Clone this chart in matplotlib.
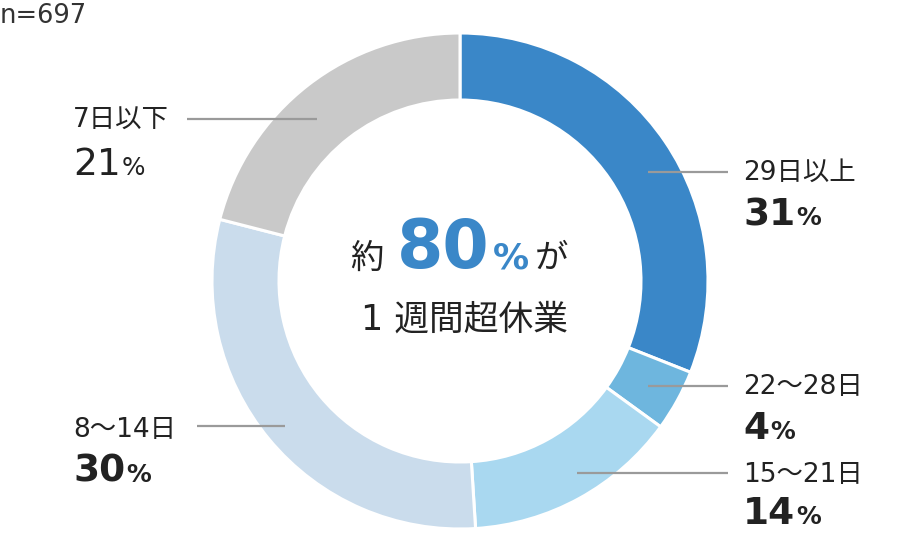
import matplotlib
matplotlib.use('Agg')
import matplotlib.pyplot as plt

# 欧文は DejaVu (Meiryo に近い幅)、和文は Noto
plt.rcParams['font.family'] = ['DejaVu Sans', 'Noto Sans CJK JP']

# データ
categories = ['29日以上', '22～28日', '15～21日', '8～14日', '7日以下']
values     = [31, 4, 14, 30, 21]
colors     = ['#3a87c8', '#6eb6de', '#a9d8f0', '#cadcec', '#c9c9c9']
n_total    = 697

# ラベル配置 (px, 左上原点): (テキストx, ラベル中心y, %ベースラインy, 線x0, 線x1, 線y, 太字)
label_pos = [
    (743, 173, 225, 648, 728, 172, True),
    (743, 387, 439, 648, 728, 386, True),
    (743, 475, 524, 577, 728, 473, True),
    (73, 430, 482, 197, 285, 426, True),
    (73, 121, 175, 187, 317, 119, False),
]

W, H = 920, 550
fig = plt.figure(figsize=(W / 100, H / 100), dpi=100)
ax = fig.add_axes([0, 0, 1, 1])
ax.axis('off')

CX, CY = 460, H - 281
R_OUT, R_IN = 248, 181

ax.pie(values, colors=colors, startangle=90, counterclock=False,
       radius=R_OUT, center=(CX, CY),
       wedgeprops=dict(width=R_OUT - R_IN, edgecolor='white', linewidth=2.2))
ax.set_xlim(0, W)
ax.set_ylim(0, H)
ax.set_aspect('equal')

renderer = fig.canvas.get_renderer()
TXT = '#222222'


def text_width(t):
    return t.get_window_extent(renderer=renderer).width


def put_pct(x, y, val, bold, size):
    # 数字 + 小さめの %
    fw = 'bold' if bold else 'normal'
    t = ax.text(x, y, str(val), fontsize=size, color=TXT, va='baseline',
                ha='left', fontweight=fw)
    w = text_width(t)
    ax.text(x + w + 1, y, '%', fontsize=size * 0.66, color=TXT,
            va='baseline', ha='left', fontweight=fw)


for cat, val, (tx, ly, py, lx0, lx1, lyy, bold) in zip(categories, values, label_pos):
    ax.plot([lx0, lx1], [H - lyy, H - lyy], color='#9a9a9a', lw=1.6,
            solid_capstyle='butt')
    ax.text(tx, H - ly, cat, fontsize=19, color=TXT, va='center', ha='left')
    put_pct(tx, H - py, val, bold, 27)

# n 表示
ax.text(0, H - 16, f'n={n_total}', fontsize=18.5, color='#333333',
        va='center', ha='left')

# 中央テキスト
base = H - 268
parts = [
    ('約', 24, TXT, 'normal'),
    ('80', 48, '#3a87c8', 'bold'),
    ('%', 26, '#3a87c8', 'bold'),
    ('が', 24, TXT, 'normal'),
]
gaps = [14, 3, 6, 0]
objs = []
for s, fs, c, fw in parts:
    objs.append(ax.text(0, base, s, fontsize=fs, color=c, fontweight=fw,
                        va='baseline', ha='left'))
widths = [text_width(o) for o in objs]
total = sum(widths) + sum(gaps[:-1])
x = 459 - total / 2
for o, w, g in zip(objs, widths, gaps):
    o.set_x(x)
    x += w + g

ax.text(465, H - 320, '1 週間超休業', fontsize=25, color=TXT,
        va='center', ha='center')

fig.savefig('out.png', dpi=100, facecolor='white')
